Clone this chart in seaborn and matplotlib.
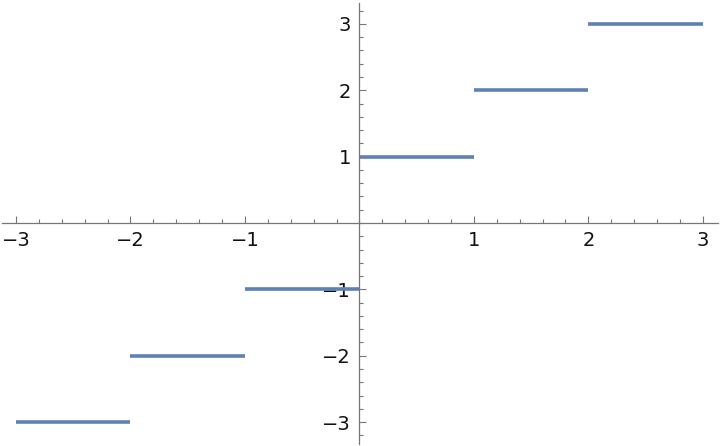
"""
Step plot, Mathematica style axes through the origin
"""

import numpy as np
import pandas as pd
import seaborn as sns
import matplotlib.pyplot as plt
from matplotlib.ticker import MultipleLocator, FuncFormatter

# segmenti orizzontali: inizio, fine, valore
seg_start = [-3, -2, -1, 0, 1, 2]
seg_end = [-2, -1, 0, 1, 2, 3]
seg_value = [-3, -2, -1, 1, 2, 3]

x_ticks = [-3, -2, -1, 1, 2, 3]
y_ticks = [-3, -2, -1, 1, 2, 3]

rows = []
for i, (a, b, v) in enumerate(zip(seg_start, seg_end, seg_value)):
    rows.append({"seg": i, "x": a, "y": v})
    rows.append({"seg": i, "x": b, "y": v})
df = pd.DataFrame(rows)

sns.set_style("white")
plt.rcParams["font.family"] = ["DejaVu Sans"]

fig = plt.figure(figsize=(7.2, 4.46), dpi=100)
ax = fig.add_axes([0, 0, 1, 1])

sns.lineplot(data=df, x="x", y="y", units="seg", estimator=None,
             color="#5E81B5", linewidth=2.6, solid_capstyle="butt",
             ax=ax, legend=False)

ax.set_xlim(-3.14, 3.15)
ax.set_ylim(-3.36, 3.36)

for side in ["top", "right"]:
    ax.spines[side].set_visible(False)
ax.spines["left"].set_position(("data", 0))
ax.spines["bottom"].set_position(("data", 0))
ax.spines["left"].set_bounds(-3.33, 3.32)
ax.spines["bottom"].set_bounds(-3.12, 3.13)
for side in ["left", "bottom"]:
    ax.spines[side].set_color("#777777")
    ax.spines[side].set_linewidth(0.9)

ax.set_xticks(x_ticks)
ax.set_yticks(y_ticks)
ax.xaxis.set_minor_locator(MultipleLocator(0.2))
ax.yaxis.set_minor_locator(MultipleLocator(0.2))
fmt = FuncFormatter(lambda v, p: f"{v:.0f}".replace("-", "\u2212"))
ax.xaxis.set_major_formatter(fmt)
ax.yaxis.set_major_formatter(fmt)

ax.tick_params(which="both", direction="in", color="#777777", width=0.8,
               bottom=True, left=True, labelsize=14, labelcolor="#111111")
ax.tick_params(which="major", length=5, pad=6)
ax.tick_params(which="minor", length=2.8)
ax.set_xlabel("")
ax.set_ylabel("")

fig.savefig("out.png", dpi=100)
